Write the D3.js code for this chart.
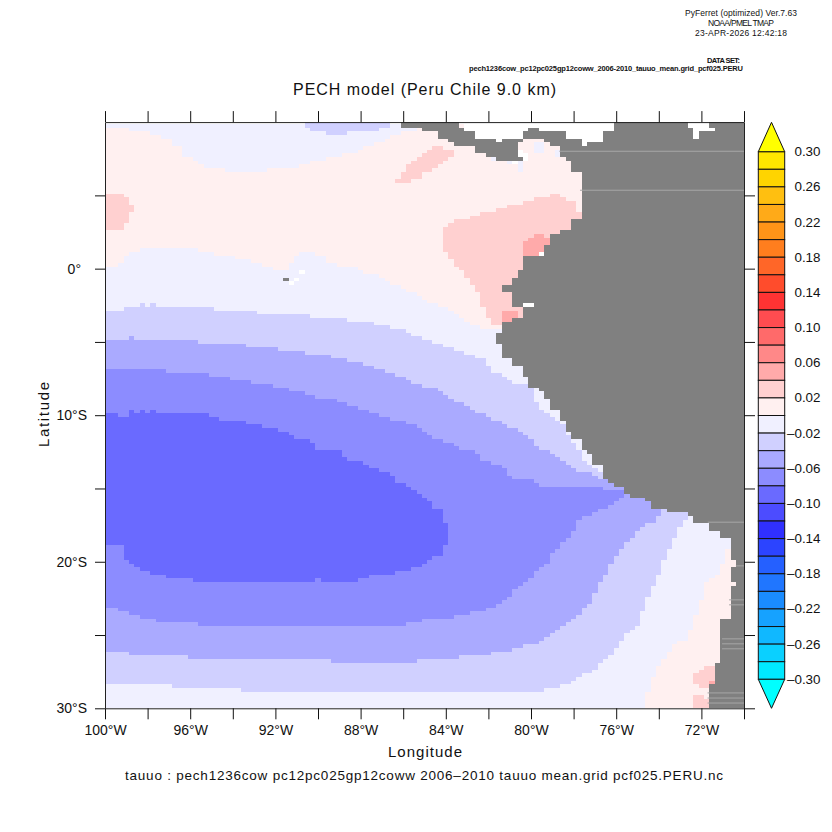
<!DOCTYPE html>
<html>
<head>
<meta charset="utf-8">
<script src="https://cdn.jsdelivr.net/npm/d3@7"></script>
<style>
  html, body { margin: 0; background: #fff; }
  text { font-family: "Liberation Sans", sans-serif; fill: #111; }
</style>
</head>
<body>
<svg id="chart" width="832" height="832"></svg>
<script>
// colour bar, top to bottom, one colour per 0.02 level
const barLevels = d3.range(30, -32, -2).map(function (d) { return d / 100; });
const barLabels = [0.30, 0.26, 0.22, 0.18, 0.14, 0.10, 0.06, 0.02, -0.02, -0.06, -0.10, -0.14, -0.18, -0.22, -0.26, -0.30];
const barColors = [
  '#ffe600', '#ffd400', '#ffbf10', '#ffaa18', '#ff9418', '#ff7e1e', '#ff6628', '#ff4c2c',
  '#ff3333', '#ff4c50', '#ff6a6a', '#ff8888', '#ffaaaa', '#ffd0d0', '#fff0f0',
  '#f0f0ff', '#d0d0ff', '#aaaaff', '#8c8cff', '#6a6aff', '#4c4cff', '#3030ff', '#2c44ff',
  '#2560ff', '#2076ff', '#1a8cff', '#16a2ff', '#10b8ff', '#0ad0ff', '#00e8ff'
];
const overColor = '#ffff00';
const underColor = '#00ffff';

const lonTicks = d3.range(-100, -68, 2);
const latTicks = d3.range(-30, 10, 5);

// contour outlines, [lon, lat]
const oceanOutline = [[-100.2, -30.2], [-69.8, -30.2], [-69.8, 9.8], [-100.2, 9.8]];

const pinkNorth = [
  [-100.2, 0.09], [-99.33, 0.09], [-99.33, 0.36], [-99.11, 0.36], [-99.11, 0.93], [-98.86, 0.93], [-98.86, 1.16],
  [-98.36, 1.16], [-98.36, 1.41], [-95.63, 1.41], [-95.63, 1.16], [-94.89, 1.16], [-94.89, 0.91], [-93.86, 0.91],
  [-93.86, 0.66], [-93.11, 0.66], [-93.11, 0.36], [-92.63, 0.36], [-92.63, 0.14], [-92.11, 0.14], [-92.11, -0.05],
  [-91.36, -0.05], [-91.36, 0.36], [-91.14, 0.36], [-91.14, 0.66], [-90.89, 0.93], [-90.89, 1.16], [-90.11, 1.16],
  [-90.11, 0.93], [-89.89, 0.93], [-89.61, 0.64], [-89.61, 0.41], [-89.14, 0.41], [-89.14, 0.14], [-88.64, 0.14],
  [-87.89, -0.05], [-87.89, -0.32], [-87.39, -0.32], [-86.88, -0.66], [-86.64, -0.89], [-86.64, -1.11], [-86.09, -1.11],
  [-86.09, -1.41], [-85.6, -1.57], [-85.4, -1.84], [-84.9, -2.14], [-84.63, -2.36], [-83.88, -2.7], [-83.65, -2.93],
  [-83.36, -3.16], [-83.1, -3.5], [-82.63, -3.84], [-82.11, -4.18], [-81.6, -4.14], [-81.38, -3.95], [-78, -4.2],
  [-69.8, -4.2], [-69.8, 10.2], [-85, 10.2], [-85.05, 9.64], [-85.47, 9.39], [-86.09, 9.32], [-86.4, 9.11],
  [-86.88, 8.82], [-87.14, 8.59], [-87.6, 8.36], [-88.12, 8.09], [-88.12, 7.86], [-89.41, 7.64], [-90.11, 7.3],
  [-90.86, 7.14], [-90.86, 6.91], [-92.38, 6.91], [-92.38, 6.61], [-94.38, 6.61], [-94.38, 6.91], [-95.11, 6.91],
  [-95.59, 7.14], [-95.86, 7.34], [-96.09, 7.64], [-96.41, 7.8], [-96.41, 8.36], [-96.88, 8.55], [-96.88, 8.84],
  [-97.38, 8.84], [-97.38, 9.11], [-97.81, 9.11], [-97.81, 9.32], [-98.86, 9.32], [-98.86, 9.64], [-100.2, 9.64]
];
const pinkSouth = [
  [-69.8, -19.23], [-70.89, -19.23], [-70.89, -20.09], [-71.13, -20.09], [-71.13, -20.89], [-71.39, -20.95], [-71.64, -21.11],
  [-71.88, -21.57], [-71.88, -22.7], [-72.16, -22.75], [-72.16, -23.61], [-72.39, -23.61], [-72.39, -24.57], [-72.63, -24.57],
  [-72.63, -25.32], [-72.88, -25.32], [-73.13, -25.5], [-73.38, -25.66], [-73.38, -26.11], [-73.66, -26.11], [-73.66, -26.64],
  [-73.9, -26.64], [-73.9, -27.2], [-74.13, -27.2], [-74.13, -27.93], [-74.37, -27.93], [-74.37, -28.77], [-74.65, -28.77],
  [-74.65, -30.2], [-69.8, -30.2]
];
const pinkWest = [
  [-100.2, 5.09], [-99.11, 5.09], [-99.11, 4.86], [-98.86, 4.86], [-98.86, 4.34], [-98.6, 4.34], [-98.6, 3.89], [-98.86, 3.89],
  [-98.86, 3.14], [-99.11, 3.14], [-99.11, 2.64], [-100.2, 2.64]
];
const pinkBight = [
  [-86.41, 5.64], [-86.41, 6.09], [-86.13, 6.09], [-86.13, 6.59], [-85.89, 6.59], [-85.89, 7.07], [-85.66, 7.07], [-85.66, 7.36],
  [-85.42, 7.36], [-85.42, 7.59], [-85.16, 7.59], [-85.16, 7.82], [-84.92, 7.82], [-84.87, 8.09], [-84.63, 8.36], [-84.12, 8.36],
  [-84.12, 8.09], [-83.62, 8.09], [-83.62, 7.64], [-83.88, 7.64], [-83.88, 7.36], [-84.12, 7.36], [-84.12, 7.14], [-84.63, 6.91],
  [-84.63, 6.66], [-85.12, 6.66], [-85.12, 6.11], [-85.63, 6.11], [-85.63, 5.86], [-86.15, 5.86]
];
const pinkCoast = [
  [-84.12, 2.82], [-83.88, 2.82], [-83.88, 3.09], [-83.62, 3.09], [-83.62, 3.36], [-82.87, 3.36], [-82.87, 3.59], [-82.4, 3.59],
  [-82.4, 3.86], [-81.65, 3.86], [-81.65, 4.14], [-81.12, 4.14], [-81.12, 4.34], [-80.37, 4.34], [-80.37, 4.61], [-79.9, 4.61],
  [-79.9, 4.86], [-79.14, 4.86], [-79.14, 5.09], [-78.64, 5.09], [-78.64, 4.86], [-78.4, 4.86], [-78.4, 4.61], [-77.89, 4.61],
  [-77.89, 3.89], [-77.7, 3.89], [-77.7, 3.32], [-77, 3.3], [-77, -3], [-81.38, -3.8], [-81.88, -3.8], [-81.88, -3.27],
  [-82.11, -3.27], [-82.11, -2.59], [-82.4, -2.59], [-82.4, -1.57], [-82.63, -1.57], [-82.63, -1.11], [-82.87, -1.11],
  [-82.87, -0.61], [-83.15, -0.61], [-83.15, -0.05], [-83.62, 0.09], [-83.62, 0.66], [-83.88, 0.66], [-83.88, 1.16], [-84.12, 1.16]
];
const pinkSouthA = [
  [-72.39, -27.52], [-72.16, -27.52], [-72.16, -27.25], [-71.88, -27.25], [-71.88, -27.02], [-71.36, -27.02], [-71.36, -28.32],
  [-71.71, -28.32], [-71.71, -28.57], [-72.16, -28.57], [-72.16, -28.39], [-72.39, -28.39]
];
const pinkSouthB = [
  [-72.39, -29.23], [-71.88, -29.23], [-71.88, -29.48], [-71.69, -29.48], [-71.69, -30.2], [-72.39, -30.2]
];
const rosePeru = [
  [-80.37, 1.89], [-80.13, 1.89], [-80.13, 2.18], [-79.9, 2.18], [-79.9, 2.36], [-79.38, 2.36], [-79.38, 2.18], [-79.15, 2.18],
  [-79.15, 1.73], [-79.38, 1.73], [-79.38, 1.16], [-79.62, 1], [-80.37, 1]
];
const roseTumbes = [
  [-81.38, -2.89], [-80.64, -2.89], [-80.64, -3.27], [-80.99, -3.27], [-80.99, -3.61], [-81.38, -3.61]
];
const roseChile = [[-71.64, -28.1], [-71.39, -28.1], [-71.39, -28.32], [-71.64, -28.32]];

const lilacTop = [
  [-90.62, 10.2], [-90.62, 9.57], [-90.39, 9.57], [-90.39, 9.32], [-89.64, 9.32], [-89.64, 9.11], [-88.67, 9.11], [-88.67, 9.32],
  [-87.14, 9.32], [-87.14, 9.57], [-86.64, 9.64], [-86.64, 10.2]
];
const lilacBand = [
  [-100.2, -2.9], [-99.1, -2.9], [-99.1, -2.6], [-98.35, -2.6], [-98.35, -2.35], [-98.1, -2.35], [-98.1, -2.6], [-97.85, -2.6],
  [-97.85, -2.35], [-97.6, -2.35], [-97.6, -2.6], [-94.9, -2.6], [-94.9, -2.9], [-92.9, -2.9], [-92.9, -3.1], [-90.4, -3.1],
  [-90.4, -3.35], [-88.65, -3.35], [-88.65, -3.6], [-87.4, -3.6], [-87.4, -3.85], [-86.65, -3.85], [-86.65, -4.1], [-85.9, -4.1],
  [-85.9, -4.35], [-85.4, -4.6], [-84.9, -4.85], [-84.4, -5.15], [-83.9, -5.35], [-83.4, -5.55], [-82.4, -6.1], [-82.1, -6.1],
  [-82.1, -6.55], [-81.9, -6.85], [-81.65, -7.15], [-81.35, -7.3], [-81.1, -7.6], [-80.9, -7.85], [-80.15, -7.85], [-79.9, -8.05],
  [-79.9, -8.85], [-79.6, -9.5], [-79.15, -10.05], [-78.65, -10.3], [-78.4, -11], [-78.05, -11.8], [-77.85, -12], [-77.65, -12.8],
  [-77.35, -13.25], [-76.7, -13.85], [-76, -14.5], [-74, -15.5], [-72.7, -16.5], [-72.7, -16.9], [-73.13, -18.05], [-73.4, -18.85],
  [-73.68, -19.65], [-73.91, -20.43], [-74.1, -21.35], [-74.38, -22.05], [-74.65, -22.8], [-74.88, -24.07], [-75.15, -24.5],
  [-75.63, -25.05], [-75.9, -25.66], [-76.14, -26.11], [-76.68, -26.9], [-77.15, -27.47], [-77.86, -27.93], [-78.17, -28.27],
  [-78.87, -28.6], [-80.13, -28.95], [-86.85, -28.95], [-86.85, -28.77], [-93.66, -28.77], [-93.66, -28.57], [-96.87, -28.57],
  [-96.87, -28.39], [-100.2, -28.39]
];
const periwinkleBand = [
  [-100.2, -4.86], [-98.86, -4.86], [-98.86, -4.59], [-98.6, -4.59], [-98.6, -4.86], [-95.6, -4.86], [-95.6, -5.14], [-93.4, -5.14],
  [-93.4, -5.36], [-91.9, -5.36], [-91.9, -5.61], [-90.6, -5.61], [-90.6, -5.89], [-89.4, -5.89], [-89.4, -6.09], [-88.67, -6.09],
  [-88.67, -6.34], [-87.9, -6.34], [-87.9, -6.59], [-87.42, -6.59], [-87.42, -6.84], [-86.9, -6.84], [-86.9, -7.14], [-86.4, -7.14],
  [-86.4, -7.32], [-85.9, -7.32], [-85.9, -7.59], [-85.65, -7.59], [-85.65, -7.86], [-85.15, -7.86], [-85.15, -8.05], [-84.75, -8.05],
  [-82.4, -9.86], [-82.1, -10.05], [-81.9, -10.32], [-81.35, -10.5], [-81.1, -10.8], [-80.6, -11.07], [-80.4, -11.27], [-80.15, -11.52],
  [-79.9, -11.75], [-79.6, -12.3], [-79.15, -12.48], [-78.87, -12.77], [-78.65, -13], [-78.4, -13.27], [-78.14, -13.45], [-77.9, -13.73],
  [-77.4, -13.9], [-76.7, -14.34], [-76.02, -14.64], [-75.67, -14.98], [-75, -15.5], [-74, -16.3], [-73.9, -16.68], [-74.13, -17.25],
  [-74.65, -17.6], [-75.15, -18.16], [-75.4, -18.39], [-75.85, -19.3], [-76.14, -19.98], [-76.37, -20.43], [-76.6, -21.11], [-76.92, -21.8],
  [-77.15, -22.7], [-77.62, -23.27], [-77.86, -23.73], [-78.4, -24.41], [-78.87, -24.75], [-79.4, -25.34], [-79.9, -25.66], [-80.36, -25.73],
  [-81.38, -26.18], [-82.4, -26.3], [-83.88, -26.64], [-86.15, -26.8], [-89.4, -26.8], [-89.4, -26.64], [-96.09, -26.64], [-96.09, -26.34],
  [-98.83, -26.34], [-99.06, -26.16], [-100.2, -26.16]
];
const cornflowerBand = [
  [-100.2, -6.84], [-97.14, -6.84], [-97.14, -7.14], [-95.12, -7.14], [-95.12, -7.32], [-94.14, -7.32], [-94.14, -7.59], [-93.11, -7.59],
  [-93.11, -7.86], [-92.14, -7.86], [-92.14, -8.09], [-91.36, -8.09], [-91.36, -8.34], [-90.62, -8.34], [-90.62, -8.61], [-90.16, -8.61],
  [-90.16, -8.82], [-89.14, -8.82], [-89.14, -9.09], [-88.67, -9.09], [-88.67, -9.3], [-88.12, -9.3], [-88.12, -9.57], [-87.6, -9.57],
  [-87.6, -9.82], [-87.14, -9.82], [-87.14, -10.05], [-86.64, -10.05], [-86.64, -10.32], [-86.12, -10.32], [-85.66, -10.55], [-84.9, -11.23],
  [-84.6, -11.52], [-84.1, -11.8], [-83.65, -11.8], [-83.33, -12.25], [-82.63, -12.48], [-82.4, -12.93], [-81.9, -13.27], [-81.38, -13.45],
  [-81.14, -13.84], [-80.9, -14.3], [-80.13, -14.41], [-79.62, -14.64], [-79.62, -14.93], [-78.64, -14.98], [-76.6, -14.98], [-75.63, -15.27],
  [-75.38, -15.32], [-75.63, -15.55], [-76.14, -16], [-76.6, -16.34], [-77.15, -16.68], [-77.9, -17.36], [-77.9, -17.77], [-78.14, -18.16],
  [-78.4, -18.45], [-78.64, -18.84], [-78.87, -19.18], [-79.15, -19.86], [-79.62, -20.52], [-79.9, -21], [-80.13, -21.34], [-80.67, -21.8],
  [-81.14, -22.48], [-81.9, -23.16], [-82.4, -23.39], [-83.65, -23.73], [-84.4, -23.95], [-85.84, -24.07], [-85.84, -24.3],
  [-95.62, -24.3], [-95.62, -24.07], [-97.57, -24.07], [-97.57, -23.9], [-98.36, -23.9], [-98.36, -23.61], [-98.87, -23.61], [-99.1, -23.39],
  [-99.53, -23.2], [-100.2, -23.2]
];
const indigoCore = [
  [-100.2, -9.86], [-99.14, -10.05], [-98.9, -10.05], [-98.9, -9.59], [-98.59, -9.59], [-98.59, -9.86], [-98.36, -9.86], [-98.36, -9.59],
  [-98.12, -9.59], [-98.12, -9.86], [-97.86, -9.86], [-97.86, -9.59], [-97.6, -9.59], [-97.6, -9.86], [-95.38, -9.86], [-94.37, -10.32],
  [-93.38, -10.32], [-93.38, -10.5], [-92.64, -10.5], [-92.64, -10.77], [-91.89, -10.77], [-91.89, -11.05], [-91.39, -11.05], [-91.39, -11.27],
  [-91.13, -11.27], [-91.13, -11.52], [-90.61, -11.52], [-90.38, -11.8], [-90.14, -12.02], [-90.14, -12.32], [-89.4, -12.32], [-89.4, -12.48],
  [-88.89, -12.48], [-88.65, -13], [-88.1, -13], [-87.6, -13.5], [-87.6, -13.73], [-87.12, -13.73], [-86.65, -13.95], [-86.38, -14.48],
  [-85.87, -14.75], [-85.6, -15.09], [-85.37, -15.27], [-85.13, -15.55], [-84.87, -15.77], [-84.63, -15.95], [-84.63, -16.27], [-84.12, -16.57],
  [-84.12, -17.32], [-83.88, -17.32], [-83.88, -18.95], [-84.12, -18.95], [-84.12, -19.41], [-84.63, -19.82], [-85.13, -20.09], [-85.21, -20.43],
  [-85.65, -20.43], [-85.65, -20.59], [-86.38, -20.59], [-86.38, -20.89], [-87.32, -20.89], [-88.1, -21.11], [-88.1, -21.34], [-89.86, -21.34],
  [-89.86, -21.11], [-90.14, -21.11], [-90.14, -21.34], [-95.85, -21.34], [-95.85, -21.11], [-96.82, -21.11], [-97.6, -20.89], [-98.12, -20.59],
  [-98.36, -20.43], [-98.83, -20.09], [-99.11, -19.68], [-99.11, -18.95], [-100.2, -18.95]
];

const landOutline = [
  [-86.03, 10.2], [-83.33, 10.2], [-83.33, 9.68], [-83.03, 9.68], [-83.03, 9.32], [-82.68, 9.32], [-82.68, 9], [-81.69, 9], [-81.69, 8.64],
  [-81.38, 8.64], [-81.38, 8.95], [-80.33, 8.95], [-80.33, 9.32], [-80, 9.32], [-80, 9.64], [-79.69, 9.64], [-79.69, 9.32], [-78.36, 9.32],
  [-78.36, 9], [-77.7, 9], [-77.7, 8.32], [-77.34, 8.32], [-77.34, 8.64], [-76.67, 8.64], [-76.67, 9.32], [-76.01, 9.32], [-76.01, 10.2],
  [-69.8, 10.2], [-69.8, -30.2], [-71.71, -30.2], [-71.71, -28.32], [-71.36, -28.32], [-71.36, -26.95], [-71.03, -26.95], [-71.03, -23.95],
  [-70.7, -23.95], [-70.7, -21.64], [-70.38, -21.64], [-70.38, -21.3], [-70.7, -21.3], [-70.7, -20.32], [-70.38, -20.32], [-70.38, -19.98],
  [-70.7, -19.98], [-70.7, -18.3], [-71.03, -18.3], [-71.03, -17.95], [-71.71, -17.95], [-71.71, -17.32], [-72.35, -17.32], [-72.35, -16.98],
  [-72.69, -16.98], [-72.69, -16.64], [-73.66, -16.64], [-73.66, -16.32], [-74.37, -16.32], [-74.37, -15.95], [-74.69, -15.95], [-74.69, -15.61],
  [-75.35, -15.61], [-75.35, -15.32], [-75.68, -15.32], [-75.68, -14.95], [-76.03, -14.95], [-76.03, -14.59], [-76.34, -14.59], [-76.34, -14.34],
  [-76.68, -14.34], [-76.68, -13.32], [-77, -13.32], [-77, -12.64], [-77.36, -12.64], [-77.36, -12.3], [-77.7, -12.3], [-77.7, -11.68],
  [-78.03, -11.68], [-78.03, -11], [-78.36, -11], [-78.36, -10.32], [-78.69, -10.32], [-78.69, -9.64], [-79.01, -9.64], [-79.01, -8.95],
  [-79.34, -8.95], [-79.34, -8.34], [-79.67, -8.34], [-79.67, -8], [-80, -8], [-80, -7.32], [-80.33, -7.32], [-80.33, -6.64], [-80.66, -6.64],
  [-80.99, -6.34], [-80.99, -6], [-81.35, -6], [-81.35, -5], [-81.69, -5], [-81.69, -4.3], [-81.36, -4.3], [-81.36, -3.66], [-80.99, -3.66],
  [-80.99, -3.27], [-80.33, -3.27], [-80.33, -2.7], [-80.64, -2.7], [-80.64, -2.64], [-80.99, -2.64], [-80.99, -1.64], [-81.36, -1.64],
  [-81.36, -1], [-80.99, -1], [-80.99, -0.61], [-80.67, -0.61], [-80.67, -0.05], [-80.33, -0.05], [-80.33, 1], [-79.34, 1], [-79.34, 1.68],
  [-79, 1.68], [-79, 2.36], [-78.67, 2.36], [-78.67, 2.68], [-78.01, 2.68], [-78.01, 3.32], [-77.7, 3.32], [-77.7, 6.66], [-78.01, 6.66],
  [-78.01, 7.36], [-78.36, 7.36], [-78.36, 7.68], [-78.67, 7.68], [-78.67, 8.32], [-79.01, 8.32], [-79.01, 8.64], [-79.34, 8.64], [-79.34, 8.95],
  [-80.33, 8.95], [-80.33, 8.64], [-80.67, 8.64], [-80.67, 7.68], [-80.33, 7.68], [-80.33, 7.36], [-81.69, 7.36], [-81.69, 7.68], [-82, 7.68],
  [-82, 8], [-82.68, 8], [-82.68, 8.32], [-83.65, 8.32], [-83.65, 8.64], [-83.88, 8.64], [-83.88, 9], [-84.32, 9], [-84.32, 9.32], [-85.03, 9.32],
  [-85.03, 9.64], [-86.03, 9.64]
];

// no data north of the isthmus, its lower edge lies under the land
const missingCaribbean = [
  [-83.33, 10.2], [-76.01, 10.2], [-76.01, 8], [-78.2, 8], [-78.2, 8.8], [-79.5, 9.1], [-80.1, 9.1], [-81, 8.8], [-82, 8.5], [-83.1, 9.1], [-83.2, 9.5]
];
const missingAndes = [
  [-72.69, 10.2], [-72.69, 9.68], [-72.35, 9.68], [-72.35, 9], [-72.02, 9], [-72.02, 9.32], [-71.36, 9.32], [-71.36, 9.64], [-71.67, 9.64], [-71.67, 10.2]
];

// single stray cells, [west, east, south, north]
const lavenderBoxes = [
  [-79.9, -79.34, 7.86, 8.64], [-80.6, -80.37, 6.61, 7.3], [-78.85, -78.67, 7.68, 8.14], [-81.15, -80.9, 7.14, 7.3], [-81.85, -81.69, 7.36, 7.68]
];
const landBoxes = [[-91.67, -91.33, -0.95, -0.66]];
const missingBoxes = [
  [-80.67, -80.33, 7.68, 8.14], [-80.33, -80.15, 7.36, 7.82], [-80, -79.6, 8.77, 8.95], [-80.9, -80.6, 7.18, 7.34],
  [-90.89, -90.63, -0.36, -0.09], [-91.14, -90.89, -0.82, -0.66], [-91.36, -91.14, -1.11, -0.82],
  [-80.33, -80, -2.64, -2.36], [-79.69, -79.34, 1, 1.16]
];

// thin lighter rows that run across the land, [lat, west end]
const landSeams = [
  [8.01, -78.67], [5.35, -77.7], [-17.3, -71.7], [-20.28, -70.38], [-22.6, -70.7], [-22.94, -70.7],
  [-25.26, -71.03], [-25.6, -71.03], [-25.94, -71.03], [-28.95, -71.71], [-29.3, -71.71], [-29.64, -71.71]
];

// painted in this order, later layers cover earlier ones
const layers = [
  { outline: oceanOutline, value: -0.01 },
  { outline: pinkNorth, value: 0.01 },
  { outline: pinkSouth, value: 0.01 },
  { outline: pinkWest, value: 0.03 },
  { outline: pinkBight, value: 0.03 },
  { outline: pinkCoast, value: 0.03 },
  { outline: pinkSouthA, value: 0.03 },
  { outline: pinkSouthB, value: 0.03 },
  { outline: rosePeru, value: 0.05 },
  { outline: roseTumbes, value: 0.05 },
  { outline: roseChile, value: 0.05 },
  { outline: lilacTop, value: -0.03 },
  { outline: lilacBand, value: -0.03 },
  { outline: periwinkleBand, value: -0.05 },
  { outline: cornflowerBand, value: -0.07 },
  { outline: indigoCore, value: -0.09 },
  { outline: missingCaribbean, value: null },
  { outline: landOutline, value: 'land' },
  { outline: missingAndes, value: null }
];

const svg = d3.select('#chart');
const x = d3.scaleLinear().domain([-100, -70]).range([105, 744]);
const y = d3.scaleLinear().domain([-30, 10]).range([708.3, 122.1]);
const barY = d3.scaleLinear().domain([0.30, -0.30]).range([151.7, 679.3]);
const colour = d3.scaleThreshold()
  .domain(barLevels.slice().reverse().slice(1, -1))
  .range(barColors.slice().reverse());
const landColor = '#808080';

function cellColor(v) {
  if (v === null) return null;
  if (v === 'land') return landColor;
  return colour(v);
}

function inBox(b, lon, lat) {
  return lon >= b[0] && lon <= b[1] && lat >= b[2] && lat <= b[3];
}

// 0.25 degree grid, each cell takes the last layer holding its centre
const gridLons = d3.range(0, 121).map(function (i) { return -100 + i * 0.25; });
const gridLats = d3.range(0, 161).map(function (j) { return -30 + j * 0.25; });
const cells = svg.append('g').attr('shape-rendering', 'crispEdges');

gridLats.forEach(function (lat) {
  const row = gridLons.map(function (lon) {
    let v = null;
    layers.forEach(function (layer) {
      if (d3.polygonContains(layer.outline, [lon, lat])) v = layer.value;
    });
    if (lavenderBoxes.some(function (b) { return inBox(b, lon, lat); })) v = -0.01;
    if (landBoxes.some(function (b) { return inBox(b, lon, lat); })) v = 'land';
    if (missingBoxes.some(function (b) { return inBox(b, lon, lat); })) v = null;
    return v;
  });
  let start = 0;
  for (let i = 1; i <= row.length; i++) {
    if (i === row.length || row[i] !== row[start]) {
      if (row[start] !== null) {
        const west = Math.max(-100, gridLons[start] - 0.125);
        const east = Math.min(-70, gridLons[i - 1] + 0.125);
        const north = Math.min(10, lat + 0.125);
        const south = Math.max(-30, lat - 0.125);
        cells.append('rect')
          .attr('x', x(west))
          .attr('y', y(north))
          .attr('width', x(east) - x(west))
          .attr('height', y(south) - y(north))
          .attr('fill', cellColor(row[start]));
      }
      start = i;
    }
  }
});

svg.append('g')
  .selectAll('line')
  .data(landSeams)
  .enter()
  .append('line')
  .attr('x1', function (d) { return x(d[1]); })
  .attr('x2', x(-70))
  .attr('y1', function (d) { return y(d[0]); })
  .attr('y2', function (d) { return y(d[0]); })
  .attr('stroke', '#a6a6a6')
  .attr('stroke-width', 1);

// axes
function lonLabel(d) {
  return d % 4 === 0 && d < -70 ? Math.abs(d) + '°W' : '';
}
function latLabel(d) {
  if (d % 10 !== 0) return '';
  return d === 0 ? '0°' : Math.abs(d) + '°S';
}

const axisBottom = d3.axisBottom(x).tickValues(lonTicks).tickSize(11).tickSizeOuter(0).tickPadding(6).tickFormat(lonLabel);
const axisTop = d3.axisTop(x).tickValues(lonTicks).tickSize(11).tickSizeOuter(0).tickFormat('');
const axisLeft = d3.axisLeft(y).tickValues(latTicks).tickSize(10).tickSizeOuter(0).tickPadding(8).tickFormat(latLabel);
const axisRight = d3.axisRight(y).tickValues(latTicks).tickSize(11).tickSizeOuter(0).tickFormat('');

svg.append('g').attr('transform', 'translate(0,708.3)').call(axisBottom);
svg.append('g').attr('transform', 'translate(0,122.1)').call(axisTop);
const leftAxis = svg.append('g').attr('transform', 'translate(105,0)').call(axisLeft);
svg.append('g').attr('transform', 'translate(744,0)').call(axisRight);

svg.selectAll('.domain').attr('stroke', '#222').attr('stroke-width', 1);
svg.selectAll('.tick line').attr('stroke', '#111').attr('stroke-width', 1);
svg.selectAll('.tick text')
  .style('font-family', '"Liberation Sans", sans-serif')
  .style('font-size', '14px')
  .attr('fill', '#111');
// the equator label has no hemisphere letter and sits further left
leftAxis.selectAll('.tick text')
  .filter(function (d) { return d === 0; })
  .attr('dx', -6);

// colour bar
const bar = svg.append('g');
const barLeft = 758.3;
const barRight = 784.7;
bar.selectAll('rect')
  .data(barColors)
  .enter()
  .append('rect')
  .attr('x', barLeft)
  .attr('y', function (d, i) { return barY(barLevels[i]); })
  .attr('width', barRight - barLeft)
  .attr('height', function (d, i) { return barY(barLevels[i + 1]) - barY(barLevels[i]); })
  .attr('fill', function (d) { return d; })
  .attr('stroke', '#111')
  .attr('stroke-width', 1);

const arrow = d3.line();
const barMid = (barLeft + barRight) / 2;
bar.append('path')
  .attr('d', arrow([[barLeft, barY(0.30)], [barMid, 122.3], [barRight, barY(0.30)]]) + 'Z')
  .attr('fill', overColor)
  .attr('stroke', '#111');
bar.append('path')
  .attr('d', arrow([[barLeft, barY(-0.30)], [barMid, 708.3], [barRight, barY(-0.30)]]) + 'Z')
  .attr('fill', underColor)
  .attr('stroke', '#111');

bar.selectAll('text')
  .data(barLabels)
  .enter()
  .append('text')
  .attr('x', 820.5)
  .attr('y', function (d) { return barY(d) + 4.5; })
  .attr('text-anchor', 'end')
  .style('font-size', '13.4px')
  .text(function (d) {
    return d < 0 ? '–' + Math.abs(d).toFixed(2) : d.toFixed(2);
  });

// page text
const pageText = [
  { t: 'PECH model (Peru Chile 9.0 km)', x: 293, y: 95, s: 16, w: 263 },
  { t: 'Longitude', x: 388, y: 757, s: 15, w: 74 },
  { t: 'tauuo : pech1236cow pc12pc025gp12coww 2006–2010 tauuo mean.grid pcf025.PERU.nc', x: 125, y: 780, s: 13.5, w: 598 },
  { t: 'PyFerret (optimized) Ver.7.63', x: 685, y: 16, s: 8.5, w: 112 },
  { t: 'NOAA/PMEL TMAP', x: 708, y: 26, s: 8.5, w: 66 },
  { t: '23-APR-2026 12:42:18', x: 695, y: 36, s: 8.5, w: 92 },
  { t: 'DATA SET:', x: 707, y: 63, s: 7.5, w: 33, b: true },
  { t: 'pech1236cow_pc12pc025gp12coww_2006-2010_tauuo_mean.grid_pcf025.PERU', x: 469, y: 71, s: 7.5, w: 274, b: true }
];
svg.append('g')
  .selectAll('text')
  .data(pageText)
  .enter()
  .append('text')
  .attr('x', function (d) { return d.x; })
  .attr('y', function (d) { return d.y; })
  .attr('textLength', function (d) { return d.w; })
  .attr('lengthAdjust', 'spacing')
  .style('font-size', function (d) { return d.s + 'px'; })
  .style('font-weight', function (d) { return d.b ? 'bold' : 'normal'; })
  .text(function (d) { return d.t; });

svg.append('text')
  .attr('transform', 'translate(49,447) rotate(-90)')
  .attr('textLength', 65)
  .attr('lengthAdjust', 'spacing')
  .style('font-size', '15px')
  .text('Latitude');
</script>
</body>
</html>
